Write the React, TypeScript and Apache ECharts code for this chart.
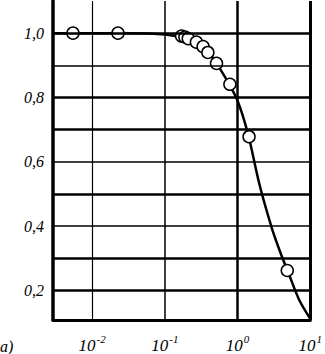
import React, { useEffect, useRef } from "react";
import * as echarts from "echarts";

// Smooth fitted curve
const curveX = [0.0029, 0.01, 0.03, 0.06, 0.1, 0.15, 0.2, 0.3, 0.4, 0.5, 0.7, 1.0, 1.4, 2.0, 3.0, 4.0, 5.0, 7.0, 10];
const curveY = [1.0, 1.0, 1.0, 0.999, 0.996, 0.99, 0.984, 0.966, 0.94, 0.91, 0.857, 0.79, 0.685, 0.53, 0.39, 0.31, 0.255, 0.172, 0.112];

// Measured points (open circles)
const pointsX = [0.00546, 0.0227, 0.17, 0.189, 0.21, 0.272, 0.336, 0.391, 0.514, 0.785, 1.44, 4.83];
const pointsY = [1.0, 1.0, 0.991, 0.988, 0.983, 0.972, 0.958, 0.94, 0.906, 0.841, 0.678, 0.262];

// Axes
const yTickValues = [0.2, 0.4, 0.6, 0.8, 1.0];
const yGridValues = [0.2, 0.3, 0.4, 0.5, 0.6, 0.7, 0.8, 0.9, 1.0];
const xTickValues = [0.01, 0.1, 1, 10];
const panelLabel = "a)";

const FONT = "'Liberation Serif', 'DejaVu Serif', serif";

export default function App() {
  const ref = useRef<HTMLDivElement>(null);
  useEffect(() => {
    if (!ref.current) return;
    const chart = echarts.init(ref.current, undefined, { renderer: "svg" });
    const thin = new Set([0.9, 0.6, 0.4]);
    const hLines = yGridValues.map((v) => ({
      yAxis: v,
      lineStyle: { color: "#000", width: thin.has(v) ? 1.5 : 2.5, type: "solid" },
    }));
    const vLines = xTickValues.map((v) => ({
      xAxis: v,
      lineStyle: { color: "#000", width: v === 10 ? 3 : v === 1 ? 2.5 : v === 0.1 ? 1.5 : 1.2, type: "solid" },
    }));
    chart.setOption({
      animation: false,
      backgroundColor: "#fff",
      grid: { left: 53, right: 3, top: 1, bottom: 31, containLabel: false },
      xAxis: {
        type: "log",
        logBase: 10,
        min: 0.0029,
        max: 10,
        axisLine: { show: true, lineStyle: { color: "#000", width: 3 } },
        axisTick: { show: false },
        splitLine: { show: false },
        axisLabel: {
          customValues: xTickValues,
          margin: 13,
          formatter: (v: number) => `{b|10}{s|${Math.round(Math.log10(v))}}`,
          rich: {
            b: { fontFamily: FONT, fontStyle: "italic", fontSize: 17, color: "#000" },
            s: { fontFamily: FONT, fontStyle: "italic", fontSize: 11, color: "#000", padding: [0, 0, 14, 1] },
          },
        },
      },
      yAxis: {
        type: "value",
        min: 0.108,
        max: 1.1,
        axisLine: { show: true, lineStyle: { color: "#000", width: 3.5 } },
        axisTick: { show: false },
        splitLine: { show: false },
        axisLabel: {
          customValues: yTickValues,
          margin: 9,
          fontFamily: FONT,
          fontStyle: "italic",
          fontSize: 16,
          color: "#000",
          formatter: (v: number) => v.toFixed(1).replace(".", ","),
        },
      },
      graphic: [
        {
          type: "text",
          left: 0,
          top: 338,
          style: { text: panelLabel, fontFamily: FONT, fontStyle: "italic", fontSize: 16, fill: "#000" },
        },
      ],
      series: [
        {
          type: "line",
          data: [],
          z: 1,
          silent: true,
          markLine: {
            silent: true,
            symbol: "none",
            label: { show: false },
            data: [...hLines, ...vLines],
          },
        },
        {
          type: "line",
          data: curveX.map((x, i) => [x, curveY[i]]),
          smooth: 0.3,
          showSymbol: false,
          z: 3,
          lineStyle: { color: "#000", width: 2.5 },
        },
        {
          type: "scatter",
          data: pointsX.map((x, i) => [x, pointsY[i]]),
          symbol: "circle",
          symbolSize: 12,
          z: 4,
          itemStyle: { color: "#fff", borderColor: "#000", borderWidth: 1.5, opacity: 1 },
        },
      ],
    });
    return () => chart.dispose();
  }, []);
  return (
    <div
      ref={ref}
      style={{ position: "absolute", left: 0, top: 0, width: 325, height: 354, background: "#fff" }}
    />
  );
}
